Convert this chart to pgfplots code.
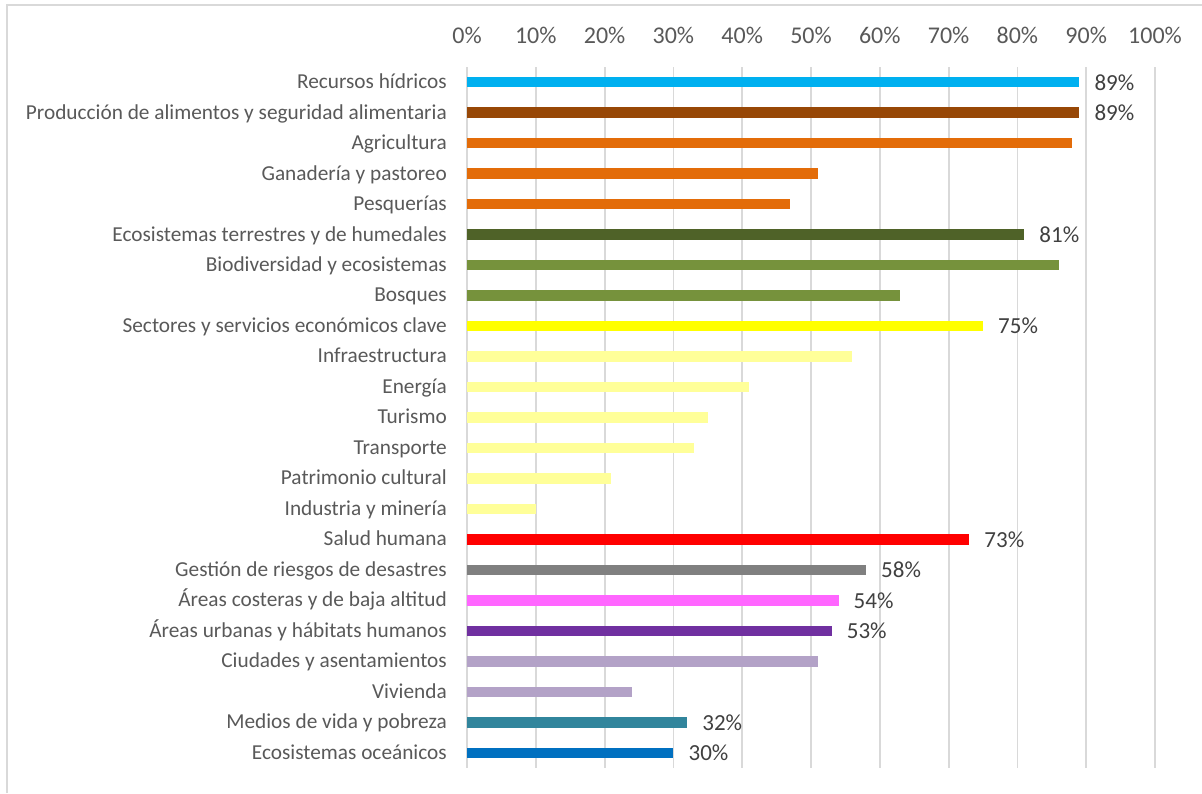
\documentclass[border=0pt]{standalone}
\usepackage{fontspec}
\setmainfont{Carlito}
\usepackage{pgfplots}
\pgfplotsset{compat=1.18}
\definecolor{gridc}{HTML}{D9D9D9}
\definecolor{txt}{HTML}{595959}
\definecolor{lbl}{HTML}{404040}
\definecolor{cA}{HTML}{00B0F0}
\definecolor{cB}{HTML}{974706}
\definecolor{cC}{HTML}{E36C09}
\definecolor{cD}{HTML}{4F6228}
\definecolor{cE}{HTML}{76923C}
\definecolor{cF}{HTML}{FFFF00}
\definecolor{cG}{HTML}{FFFF99}
\definecolor{cH}{HTML}{FF0000}
\definecolor{cI}{HTML}{808080}
\definecolor{cJ}{HTML}{FF66FF}
\definecolor{cK}{HTML}{7030A0}
\definecolor{cL}{HTML}{B3A2C7}
\definecolor{cM}{HTML}{31859C}
\definecolor{cN}{HTML}{0070C0}
\begin{document}
\begin{tikzpicture}[x=1pt,y=1pt]
\useasboundingbox (0,0) rectangle (1202,793);
\draw[gridc, line width=1.5pt] (7,0) -- (7,788) -- (1202,788);
\begin{axis}[
  at={(467pt,25pt)}, anchor=south west,
  scale only axis, width=688pt, height=701pt,
  xbar, bar width=10.5pt, bar shift=0pt,
  xmin=0, xmax=100, ymin=-0.5, ymax=22.5, y dir=reverse,
  xtick={0,10,...,100},
  xticklabel={\pgfmathprintnumber{\tick}\%},
  xticklabel pos=upper,
  /pgf/number format/assume math mode=true,
  xticklabel style={font=\fontsize{24}{26}\selectfont, text=txt, anchor=center, yshift=32pt},
  ytick={0,...,22},
  yticklabels={Recursos hídricos, Producción de alimentos y seguridad alimentaria, Agricultura, Ganadería y pastoreo, Pesquerías, Ecosistemas terrestres y de humedales, Biodiversidad y ecosistemas, Bosques, Sectores y servicios económicos clave, Infraestructura, Energía, Turismo, Transporte, Patrimonio cultural, Industria y minería, Salud humana, Gestión de riesgos de desastres, Áreas costeras y de baja altitud, Áreas urbanas y hábitats humanos, Ciudades y asentamientos, Vivienda, Medios de vida y pobreza, Ecosistemas oceánicos},
  yticklabel style={font=\fontsize{21.3}{23}\selectfont, text=txt, anchor=mid east, inner sep=0pt, xshift=-20pt, yshift=-4pt},
  major tick length=0pt,
  axis line style={draw=none},
  xmajorgrids, grid style={gridc, line width=1.8pt},
  every axis plot/.append style={draw=none},
  lab/.style={nodes near coords, point meta=x,
     nodes near coords={\pgfmathprintnumber{\pgfplotspointmeta}\%},
     nodes near coords style={font=\fontsize{23}{25}\selectfont, text=lbl, anchor=west, inner sep=0pt, xshift=15pt, /pgf/number format/assume math mode=true}},
]
\addplot[fill=cA, lab] coordinates {(89,0)};
\addplot[fill=cB, lab] coordinates {(89,1)};
\addplot[fill=cC] coordinates {(88,2)};
\addplot[fill=cC] coordinates {(51,3)};
\addplot[fill=cC] coordinates {(47,4)};
\addplot[fill=cD, lab] coordinates {(81,5)};
\addplot[fill=cE] coordinates {(86,6)};
\addplot[fill=cE] coordinates {(63,7)};
\addplot[fill=cF, lab] coordinates {(75,8)};
\addplot[fill=cG] coordinates {(56,9)};
\addplot[fill=cG] coordinates {(41,10)};
\addplot[fill=cG] coordinates {(35,11)};
\addplot[fill=cG] coordinates {(33,12)};
\addplot[fill=cG] coordinates {(21,13)};
\addplot[fill=cG] coordinates {(10,14)};
\addplot[fill=cH, lab] coordinates {(73,15)};
\addplot[fill=cI, lab] coordinates {(58,16)};
\addplot[fill=cJ, lab] coordinates {(54,17)};
\addplot[fill=cK, lab] coordinates {(53,18)};
\addplot[fill=cL] coordinates {(51,19)};
\addplot[fill=cL] coordinates {(24,20)};
\addplot[fill=cM, lab] coordinates {(32,21)};
\addplot[fill=cN, lab] coordinates {(30,22)};
\end{axis}
\end{tikzpicture}
\end{document}
